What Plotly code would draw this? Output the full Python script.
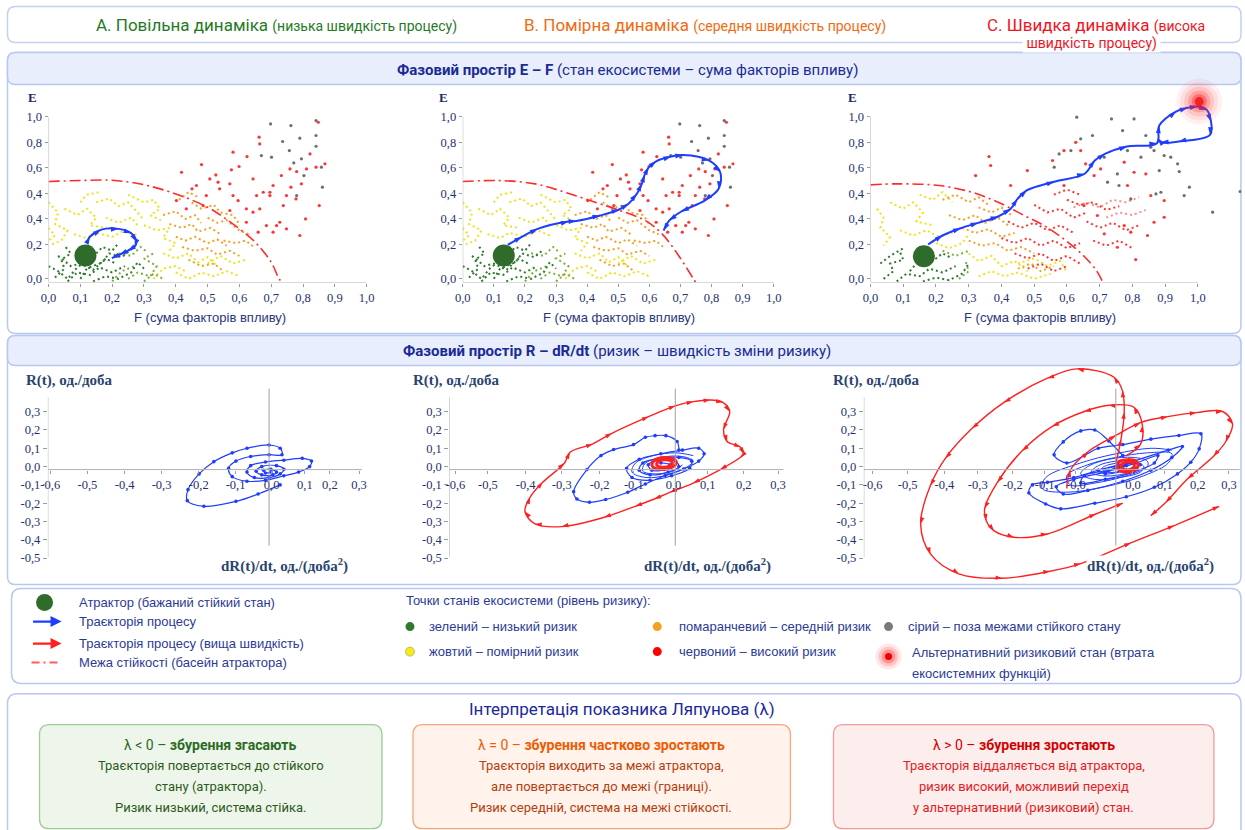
import plotly.graph_objects as go

W, H = 1245, 830

# ====================== DATA ======================
F_TICKS = [0.0, 0.1, 0.2, 0.3, 0.4, 0.5, 0.6, 0.7, 0.8, 0.9, 1.0]
F_TICK_TEXT = ["0,0", "0,1", "0,2", "0,3", "0,4", "0,5", "0,6", "0,7", "0,8", "0,9", "1,0"]
E_TICK_POS = [0.0, 0.27, 0.47, 0.67, 0.87, 1.07, 1.27]
E_TICK_TEXT = ["0,0", "0,2", "0,4", "0,4", "0,6", "0,8", "1,0"]

R_TICKS = [-0.5, -0.4, -0.3, -0.2, -0.1, 0.0, 0.1, 0.2, 0.3]
R_TICK_TEXT = ["-0,5", "-0,4", "-0,3", "-0,2", "-0,1", "0,0", "0,1", "0,2", "0,3"]
DR_TICK_TEXT = ["-0,6", "-0,5", "-0,4", "-0,3", "-0,2", "-0,1", "0,0", "0,1", "0,2", "0,3"]
DR_TICK_POS_A = [-0.594, -0.493, -0.392, -0.292, -0.191, -0.091, 0.007, 0.097, 0.165, 0.244]
DR_TICK_POS_B = [-0.61, -0.52, -0.415, -0.315, -0.21, -0.115, -0.005, 0.09, 0.19, 0.285]
DR_TICK_TEXT_C = ["-0,6", "-0,5", "-0,4", "-0,3", "-0,2", "-0,1", "-0,0", "0,0", "0,1", "0,2", "0,3"]
DR_TICK_POS_C = [-0.694, -0.594, -0.489, -0.394, -0.294, -0.203, -0.114, 0.049, 0.14, 0.234, 0.323]

# stability boundaries (F, E)
BOUND_A = [(0, 0.763), (0.1, 0.771), (0.2, 0.773), (0.3, 0.738), (0.4, 0.666), (0.5, 0.562),
           (0.55, 0.483), (0.6, 0.392), (0.65, 0.287), (0.7, 0.130), (0.725, 0.0), (0.735, -0.03)]
BOUND_B = [(0, 0.763), (0.115, 0.771), (0.233, 0.745), (0.329, 0.679), (0.426, 0.6), (0.501, 0.54),
           (0.587, 0.457), (0.641, 0.353), (0.694, 0.183), (0.742, 0.0), (0.75, -0.03)]
BOUND_C = [(0, 0.737), (0.08, 0.745), (0.21, 0.732), (0.31, 0.679), (0.39, 0.601), (0.47, 0.496),
           (0.53, 0.418), (0.59, 0.313), (0.65, 0.183), (0.69, 0.065), (0.71, -0.03)]

# attractors and alternative state
ATTR_A = (0.116, 0.183)
ATTR_B = (0.132, 0.183)
ATTR_C = (0.163, 0.177)
ALT_C = (1.004, 1.39)

# process trajectories in E-F
TRAJ_A = [(0.121, 0.287), (0.13, 0.33), (0.164, 0.384), (0.220, 0.392), (0.260, 0.358), (0.276, 0.293),
          (0.271, 0.253), (0.250, 0.222), (0.224, 0.191), (0.199, 0.162)]
TRAJ_B = [(0.145, 0.267), (0.19, 0.33), (0.241, 0.392), (0.340, 0.449), (0.365, 0.454), (0.442, 0.497),
          (0.503, 0.544), (0.533, 0.588), (0.560, 0.667), (0.576, 0.745), (0.585, 0.816), (0.598, 0.875),
          (0.622, 0.922), (0.670, 0.959), (0.708, 0.972), (0.793, 0.928), (0.828, 0.836), (0.823, 0.706),
          (0.778, 0.614), (0.703, 0.528), (0.664, 0.457), (0.646, 0.379)]
TRAJ_C = [(0.176, 0.269), (0.22, 0.34), (0.275, 0.397), (0.329, 0.439), (0.390, 0.489), (0.428, 0.549),
          (0.449, 0.627), (0.477, 0.693), (0.561, 0.762), (0.654, 0.824), (0.685, 0.928), (0.716, 0.980),
          (0.783, 1.038), (0.875, 1.064), (0.882, 1.202), (0.933, 1.312), (0.968, 1.341), (0.999, 1.351),
          (1.027, 1.325), (1.040, 1.234), (1.037, 1.129), (0.941, 1.077), (0.887, 1.071), (0.878, 1.10)]

# ecosystem state points (dotted chains) for panels A and B
AB_GREEN_DARK = [
    [(0.02, 0.01), (0.05, 0.08), (0.04, 0.15), (0.07, 0.2), (0.05, 0.26)],
    [(0.06, -0.02), (0.09, 0.05), (0.13, 0.03), (0.16, 0.09), (0.2, 0.05), (0.24, 0.1)],
    [(0.1, 0.0), (0.12, 0.08), (0.17, 0.13), (0.19, 0.2), (0.23, 0.17), (0.26, 0.23)],
    [(0.14, -0.02), (0.18, 0.02), (0.22, 0.0), (0.26, 0.05), (0.28, 0.13), (0.3, 0.08)],
    [(0.03, 0.18), (0.07, 0.1), (0.1, 0.12), (0.14, 0.07), (0.18, 0.16), (0.21, 0.12)],
    [(0.0, 0.1), (0.03, 0.06), (0.06, 0.0), (0.09, 0.09), (0.12, 0.14)],
    [(0.15, 0.2), (0.17, 0.25), (0.2, 0.22), (0.22, 0.28)],
]
AB_GREEN_LIGHT = [
    [(0.25, 0.0), (0.28, 0.05), (0.32, 0.02), (0.34, 0.1), (0.3, 0.16), (0.33, 0.2)],
    [(0.22, 0.2), (0.26, 0.18), (0.29, 0.25), (0.31, 0.21)],
    [(0.2, -0.02), (0.23, 0.06), (0.27, 0.1)],
    [(0.3, -0.02), (0.33, 0.04), (0.36, 0.0)],
]
AB_YELLOW = [
    [(0.0, 0.6), (0.03, 0.52), (0.02, 0.43), (0.06, 0.38), (0.04, 0.3), (0.01, 0.27)],
    [(0.05, 0.55), (0.09, 0.5), (0.12, 0.55), (0.15, 0.48), (0.13, 0.42), (0.18, 0.4)],
    [(0.08, 0.35), (0.12, 0.32), (0.15, 0.36), (0.2, 0.33), (0.24, 0.38), (0.28, 0.34)],
    [(0.15, 0.6), (0.19, 0.63), (0.22, 0.57), (0.25, 0.6), (0.28, 0.52), (0.3, 0.46)],
    [(0.25, 0.66), (0.3, 0.6), (0.33, 0.62), (0.35, 0.55), (0.32, 0.5), (0.36, 0.45)],
    [(0.3, 0.42), (0.34, 0.38), (0.38, 0.4), (0.36, 0.32), (0.4, 0.28), (0.38, 0.22)],
    [(0.36, 0.2), (0.4, 0.16), (0.44, 0.2), (0.47, 0.13), (0.5, 0.17), (0.53, 0.1)],
    [(0.4, 0.05), (0.44, 0.0), (0.48, 0.05), (0.52, 0.02), (0.56, 0.06), (0.6, 0.02)],
    [(0.33, 0.0), (0.36, 0.08), (0.4, 0.1), (0.43, 0.06)],
    [(0.5, 0.12), (0.54, 0.18), (0.58, 0.12), (0.62, 0.15)],
    [(0.1, 0.6), (0.12, 0.66), (0.16, 0.68)],
    [(0.18, 0.48), (0.22, 0.44), (0.26, 0.48), (0.28, 0.42)],
    [(0.0, 0.4), (0.02, 0.34), (0.0, 0.3)],
]
AB_ORANGE = [
    [(0.36, 0.5), (0.4, 0.53), (0.43, 0.47), (0.46, 0.5), (0.48, 0.44)],
    [(0.38, 0.43), (0.42, 0.4), (0.45, 0.43), (0.47, 0.37), (0.51, 0.4), (0.54, 0.35)],
    [(0.4, 0.33), (0.43, 0.3), (0.46, 0.33), (0.5, 0.28), (0.53, 0.31), (0.56, 0.26)],
    [(0.42, 0.25), (0.46, 0.22), (0.5, 0.24), (0.53, 0.19), (0.57, 0.22), (0.6, 0.18)],
    [(0.45, 0.6), (0.48, 0.55), (0.52, 0.58), (0.54, 0.52), (0.58, 0.5), (0.6, 0.43)],
    [(0.5, 0.48), (0.53, 0.44), (0.56, 0.46), (0.6, 0.38), (0.63, 0.35)],
    [(0.44, 0.15), (0.48, 0.1), (0.52, 0.12), (0.55, 0.06)],
    [(0.55, 0.3), (0.59, 0.28), (0.62, 0.3), (0.65, 0.24)],
    [(0.41, 0.62), (0.44, 0.68), (0.47, 0.64)],
]
AB_RED_F = [0.418, 0.451, 0.481, 0.496, 0.526, 0.538, 0.570, 0.580, 0.596, 0.575, 0.599, 0.624, 0.662, 0.664,
            0.643, 0.654, 0.675, 0.696, 0.706, 0.643, 0.622, 0.664, 0.685, 0.738, 0.748, 0.762, 0.778, 0.795,
            0.780, 0.759, 0.717, 0.706, 0.748, 0.790, 0.808, 0.851, 0.869, 0.848, 0.841, 0.822, 0.811, 0.533,
            0.507, 0.465, 0.402, 0.433, 0.486, 0.580, 0.570, 0.622, 0.696, 0.727, 0.659, 0.732]
AB_RED_E = [0.836, 0.706, 0.896, 0.653, 0.815, 0.706, 0.745, 0.653, 0.614, 0.855, 0.881, 0.959, 1.111, 1.058,
            0.784, 0.653, 0.679, 0.679, 0.732, 0.523, 0.549, 0.549, 0.418, 0.575, 0.653, 0.719, 0.627, 0.745,
            0.841, 0.862, 0.418, 0.366, 0.392, 0.340, 0.470, 0.575, 0.902, 1.228, 0.876, 0.980, 0.862, 0.758,
            0.784, 0.732, 0.614, 0.549, 0.575, 0.993, 0.536, 0.444, 0.653, 0.444, 0.366, 0.810]
AB_GRAY_F = [0.698, 0.762, 0.736, 0.790, 0.841, 0.841, 0.841, 0.757, 0.795, 0.701, 0.669, 0.771, 0.858, 0.861,
             0.780, 0.803]
AB_GRAY_E = [1.215, 1.202, 1.077, 1.103, 1.241, 1.124, 1.040, 1.006, 0.941, 0.954, 0.967, 0.909, 0.876, 0.719,
             0.653, 0.810]

# ecosystem state points for panel C
C_GREEN_DARK = [
    [(0.04, 0.0), (0.07, 0.06), (0.06, 0.12), (0.1, 0.15), (0.09, 0.21)],
    [(0.08, -0.02), (0.11, 0.04), (0.15, 0.02), (0.18, 0.08), (0.22, 0.05), (0.26, 0.1)],
    [(0.12, 0.06), (0.14, 0.12), (0.19, 0.14), (0.22, 0.2), (0.25, 0.16)],
    [(0.16, -0.02), (0.2, 0.01), (0.24, -0.01), (0.28, 0.04), (0.3, 0.12)],
    [(0.03, 0.12), (0.06, 0.18), (0.1, 0.24)],
]
C_GREEN_LIGHT = [
    [(0.22, 0.22), (0.26, 0.18), (0.3, 0.22)],
    [(0.27, 0.0), (0.3, 0.06), (0.29, 0.14)],
]
C_YELLOW = [
    [(0.02, 0.55), (0.04, 0.48), (0.03, 0.4), (0.06, 0.33), (0.04, 0.26)],
    [(0.06, 0.6), (0.1, 0.55), (0.13, 0.6), (0.16, 0.52), (0.14, 0.45), (0.19, 0.42)],
    [(0.09, 0.38), (0.13, 0.34), (0.17, 0.38), (0.21, 0.33), (0.25, 0.36)],
    [(0.15, 0.66), (0.19, 0.62), (0.22, 0.68), (0.25, 0.6)],
    [(0.3, 0.2), (0.33, 0.14), (0.37, 0.18), (0.4, 0.1), (0.44, 0.14), (0.48, 0.06)],
    [(0.33, 0.02), (0.37, 0.06), (0.41, 0.02), (0.45, 0.05), (0.5, 0.0), (0.55, 0.04)],
    [(0.45, 0.12), (0.5, 0.16), (0.54, 0.1), (0.58, 0.14), (0.6, 0.05)],
    [(0.2, 0.28), (0.24, 0.24), (0.28, 0.28), (0.3, 0.35)],
]
C_ORANGE = [
    [(0.22, 0.62), (0.26, 0.66), (0.3, 0.6), (0.33, 0.64), (0.36, 0.58)],
    [(0.24, 0.5), (0.28, 0.46), (0.32, 0.5), (0.35, 0.44), (0.39, 0.48), (0.42, 0.42)],
    [(0.28, 0.4), (0.32, 0.36), (0.36, 0.39), (0.4, 0.33), (0.44, 0.36)],
    [(0.3, 0.3), (0.34, 0.26), (0.38, 0.28), (0.42, 0.22), (0.46, 0.25), (0.5, 0.2)],
    [(0.33, 0.56), (0.37, 0.52), (0.4, 0.56), (0.43, 0.5)],
    [(0.45, 0.08), (0.49, 0.12), (0.52, 0.06), (0.56, 0.1)],
]
C_RED = [
    [(0.42, 0.45), (0.46, 0.4), (0.5, 0.44), (0.54, 0.38), (0.58, 0.42), (0.62, 0.36)],
    [(0.4, 0.32), (0.44, 0.28), (0.48, 0.32), (0.52, 0.26), (0.56, 0.3), (0.6, 0.24), (0.64, 0.28)],
    [(0.44, 0.2), (0.48, 0.16), (0.52, 0.2), (0.56, 0.14), (0.6, 0.18), (0.64, 0.12)],
    [(0.5, 0.58), (0.54, 0.52), (0.58, 0.55), (0.62, 0.48), (0.66, 0.52)],
    [(0.6, 0.62), (0.64, 0.58), (0.68, 0.6), (0.72, 0.54), (0.76, 0.57)],
    [(0.66, 0.45), (0.7, 0.4), (0.74, 0.44), (0.78, 0.38), (0.82, 0.42)],
    [(0.68, 0.3), (0.72, 0.26), (0.76, 0.3), (0.8, 0.24)],
    [(0.56, 0.66), (0.6, 0.7), (0.64, 0.66)],
    [(0.48, 0.08), (0.52, 0.12), (0.56, 0.06), (0.6, 0.1)],
]
C_PINK = [
    [(0.62, 0.56), (0.66, 0.6), (0.7, 0.56), (0.74, 0.62), (0.78, 0.6), (0.82, 0.64)],
    [(0.72, 0.48), (0.76, 0.52), (0.8, 0.5), (0.84, 0.54)],
]
C_RED_F = [0.362, 0.367, 0.321, 0.428, 0.479, 0.556, 0.591, 0.627, 0.642, 0.657, 0.683, 0.703, 0.775, 0.805,
           0.841, 0.785, 0.856, 0.897, 0.714, 0.754, 0.795, 0.810, 0.775, 0.866, 0.897, 0.846, 0.693, 0.652,
           0.591]
C_RED_E = [0.959, 0.889, 0.810, 0.732, 0.849, 0.928, 1.006, 1.071, 1.006, 0.902, 0.810, 0.862, 0.915, 0.836,
           0.823, 0.732, 0.653, 0.614, 0.353, 0.248, 0.366, 0.151, 0.418, 0.444, 0.483, 0.340, 0.497, 0.575,
           0.732]
C_GRAY_F = [0.630, 0.736, 0.805, 0.770, 0.841, 0.678, 0.642, 0.576, 0.612, 0.714, 0.785, 0.866, 0.897, 0.917,
            0.938, 0.943, 0.882, 0.826, 0.856, 0.561, 0.754, 0.724, 0.759, 0.795, 0.872, 0.958, 1.045, 1.129,
            0.887, 0.974]
C_GRAY_E = [1.268, 1.254, 1.254, 1.163, 1.124, 1.124, 1.098, 0.980, 1.006, 0.954, 1.006, 1.006, 0.967, 0.954,
            0.902, 0.841, 0.849, 0.954, 1.032, 0.876, 0.823, 0.758, 0.732, 0.627, 0.666, 0.653, 0.523, 0.685,
            0.679, 0.719]

# phase space R - dR/dt : (dR/dt, R)
RA_BLUE = [(0.03, -0.10), (-0.03, -0.15), (-0.09, -0.19), (-0.177, -0.217), (-0.222, -0.186), (-0.22, -0.126),
           (-0.19, -0.04), (-0.15, 0.027), (-0.10, 0.075), (-0.06, 0.10), (0.0, 0.118), (0.03, 0.10),
           (0.035, 0.065), (0.0, 0.065), (-0.05, 0.055), (-0.09, 0.03), (-0.11, -0.01), (-0.10, -0.055),
           (-0.06, -0.08), (-0.01, -0.075), (0.04, -0.05), (0.08, -0.03), (0.11, 0.0), (0.115, 0.03),
           (0.09, 0.045), (0.04, 0.035), (-0.01, 0.025), (-0.05, 0.005), (-0.06, -0.03), (-0.04, -0.06),
           (0.0, -0.06), (0.03, -0.04), (0.04, -0.015), (0.02, 0.005), (-0.02, 0.0), (-0.035, -0.025),
           (-0.02, -0.045), (0.01, -0.045), (0.02, -0.03), (0.005, -0.015), (-0.015, -0.02), (-0.01, -0.035),
           (0.005, -0.03)]
RB_RED = [(0.0, 0.332), (0.05, 0.355), (0.097, 0.364), (0.132, 0.351), (0.151, 0.301), (0.134, 0.202),
          (0.144, 0.137), (0.181, 0.106), (0.190, 0.069), (0.181, 0.051), (0.125, -0.016), (0.05, -0.09),
          (-0.014, -0.140), (-0.058, -0.177), (-0.111, -0.217), (-0.197, -0.277), (-0.315, -0.328),
          (-0.389, -0.313), (-0.417, -0.246), (-0.403, -0.168), (-0.368, -0.086), (-0.308, 0.018),
          (-0.292, 0.078), (-0.229, 0.124), (-0.176, 0.182), (-0.074, 0.273), (0.0, 0.332)]
RB_BLUE = [(0.01, 0.09), (0.005, 0.137), (-0.026, 0.169), (-0.056, 0.169), (-0.083, 0.160), (-0.116, 0.120),
           (-0.171, 0.093), (-0.206, 0.060), (-0.245, -0.016), (-0.282, -0.137), (-0.273, -0.177),
           (-0.238, -0.195), (-0.193, -0.180), (-0.132, -0.140), (-0.083, -0.095), (-0.028, -0.049),
           (0.023, -0.013), (0.065, 0.03), (0.08, 0.07), (0.065, 0.10), (0.02, 0.09), (-0.04, 0.07),
           (-0.10, 0.04), (-0.135, -0.01), (-0.12, -0.06), (-0.07, -0.075), (-0.01, -0.05), (0.04, -0.01),
           (0.045, 0.03), (0.01, 0.05), (-0.04, 0.045), (-0.09, 0.02), (-0.10, -0.02), (-0.07, -0.045),
           (-0.02, -0.03), (0.01, 0.0), (0.0, 0.03), (-0.04, 0.035), (-0.075, 0.01), (-0.065, -0.02),
           (-0.03, -0.015), (-0.015, 0.01), (-0.04, 0.02)]
RB_BLUE_INNER = [(0.05, 0.06), (0.0, 0.075), (-0.06, 0.06), (-0.11, 0.02), (-0.12, -0.03), (-0.08, -0.06),
                 (-0.02, -0.045), (0.03, -0.005), (0.05, 0.03), (0.02, 0.055), (-0.04, 0.05), (-0.085, 0.015),
                 (-0.09, -0.025), (-0.05, -0.04), (0.0, -0.02), (0.02, 0.01)]
RB_CORE = [
    [(-0.065, 0.012), (-0.055, 0.038), (-0.03, 0.05), (-0.005, 0.042), (0.003, 0.02), (-0.01, -0.005),
     (-0.035, -0.015), (-0.058, -0.008), (-0.065, 0.012)],
    [(-0.052, 0.014), (-0.045, 0.03), (-0.03, 0.037), (-0.013, 0.032), (-0.008, 0.018), (-0.016, 0.003),
     (-0.034, -0.003), (-0.048, 0.002), (-0.052, 0.014)],
]
RC_RED_1 = [(0.0, 0.02), (0.015, 0.15), (0.024, 0.297), (0.019, 0.415), (-0.005, 0.488), (-0.11, 0.534),
            (-0.195, 0.483), (-0.319, 0.351), (-0.410, 0.209), (-0.486, 0.046), (-0.529, -0.104),
            (-0.557, -0.313), (-0.529, -0.477), (-0.448, -0.586), (-0.324, -0.610), (-0.188, -0.572),
            (-0.10, -0.53), (0.043, -0.417), (0.167, -0.322), (0.295, -0.217)]
RC_RED_2 = [(0.03, 0.06), (0.07, 0.12), (0.076, 0.224), (0.052, 0.324), (-0.02, 0.335), (-0.090, 0.301),
            (-0.181, 0.220), (-0.267, 0.087), (-0.338, -0.086), (-0.374, -0.228), (-0.370, -0.295),
            (-0.348, -0.350), (-0.291, -0.386), (-0.195, -0.368), (-0.057, -0.259), (0.02, -0.2)]
RC_RED_3 = [(-0.14, -0.12), (-0.13, -0.02), (-0.08, 0.08), (0.0, 0.17), (0.07, 0.24), (0.148, 0.273),
            (0.23, 0.295), (0.305, 0.301), (0.333, 0.233), (0.314, 0.137), (0.279, 0.056), (0.205, -0.067),
            (0.143, -0.195), (0.100, -0.268)]
RC_CORE = [
    [(0.004, 0.005), (0.012, 0.03), (0.034, 0.038), (0.058, 0.03), (0.064, 0.005), (0.052, -0.022),
     (0.03, -0.03), (0.01, -0.02), (0.004, 0.005)],
    [(0.016, 0.004), (0.022, 0.02), (0.036, 0.026), (0.05, 0.02), (0.053, 0.003), (0.044, -0.014),
     (0.03, -0.018), (0.019, -0.01), (0.016, 0.004)],
]
RC_BLUE = [(0.02, 0.06), (-0.02, 0.14), (-0.06, 0.20), (-0.10, 0.195), (-0.15, 0.135), (-0.176, 0.064),
           (-0.14, 0.02), (-0.09, 0.06), (-0.05, 0.10), (0.02, 0.12), (0.10, 0.15), (0.18, 0.17),
           (0.243, 0.179), (0.238, 0.097), (0.214, 0.024), (0.176, -0.040), (0.110, -0.113), (0.03, -0.165),
           (-0.06, -0.20), (-0.157, -0.231), (-0.200, -0.204), (-0.248, -0.144), (-0.238, -0.1),
           (-0.195, -0.086), (-0.12, -0.06), (-0.05, -0.02), (0.05, 0.03), (0.15, 0.09), (0.19, 0.11),
           (0.16, 0.05), (0.10, -0.02), (0.02, -0.08), (-0.08, -0.13), (-0.15, -0.15), (-0.17, -0.11),
           (-0.12, -0.07), (-0.03, -0.03), (0.06, 0.02), (0.12, 0.06), (0.11, 0.02), (0.05, -0.03),
           (-0.03, -0.07), (-0.10, -0.09), (-0.09, -0.05), (-0.02, -0.02), (0.05, 0.02), (0.07, 0.01),
           (0.03, -0.02), (-0.03, -0.04), (-0.05, -0.02), (0.0, 0.0), (0.03, 0.005)]
RC_BLUE_INNER = [(0.16, 0.09), (0.1, 0.1), (0.0, 0.07), (-0.1, 0.02), (-0.2, -0.06), (-0.21, -0.12),
                 (-0.14, -0.14), (-0.03, -0.11), (0.08, -0.05), (0.15, 0.02), (0.16, 0.07), (0.09, 0.075),
                 (0.0, 0.05), (-0.08, 0.01), (-0.14, -0.05), (-0.13, -0.1), (-0.06, -0.09), (0.03, -0.05),
                 (0.09, 0.0), (0.09, 0.03), (0.05, 0.05), (-0.02, 0.04), (-0.08, 0.0), (-0.1, -0.04),
                 (-0.06, -0.07), (0.01, -0.06), (0.07, -0.03), (0.08, 0.0), (0.05, 0.03), (0.0, 0.03),
                 (-0.05, 0.005), (-0.07, -0.03), (-0.04, -0.05), (0.01, -0.045), (0.05, -0.02), (0.05, 0.01),
                 (0.02, 0.02), (-0.02, 0.01), (-0.04, -0.01), (-0.03, -0.03), (0.0, -0.03), (0.03, -0.015)]

# ====================== STYLE ======================
SANS = "Liberation Sans, Arial, sans-serif"
HEAD = "Roboto, Liberation Sans, sans-serif"
SERIF = "Liberation Serif, Times New Roman, serif"
NAVY = "#26306e"
BLUE = "#1f3dff"
RED = "#ff2020"
C_DGREEN = "#2e7a2e"
C_LGREEN = "#7fb03a"
C_YEL = "#f0e21a"
C_ORA = "#f5a020"
C_RD = "#ff3535"
C_GR = "#6e6e6e"

# page placement correction (observed rendering offset / scale of the page)
OX, SX = 8.5, 0.99
OY, SY = -0.5, 0.995

fig = go.Figure()
shapes, ann = [], []


def X(p):
    return ((p - OX) / SX) / W


def Y(p):
    return 1 - ((p - OY) / SY) / H


def clamp01(v):
    return max(0.0, min(1.0, v))


def pts(p):
    return [q[0] for q in p], [q[1] for q in p]


def path_trace(p, xa, ya, **kw):
    xs, ys = pts(p)
    fig.add_trace(go.Scatter(x=xs, y=ys, xaxis=xa, yaxis=ya, hoverinfo="skip", showlegend=False, **kw))


def worms(paths, color, xa, ya, width=2.0):
    xs, ys = [], []
    for p in paths:
        a, b = pts(p)
        xs += a + [None]
        ys += b + [None]
    fig.add_trace(go.Scatter(x=xs, y=ys, mode="lines", xaxis=xa, yaxis=ya, hoverinfo="skip",
                             showlegend=False, line=dict(color=color, width=width, dash="2px,3px")))


def dots(xs, ys, color, xa, ya, size=3.2):
    fig.add_trace(go.Scatter(x=xs, y=ys, mode="markers", xaxis=xa, yaxis=ya, hoverinfo="skip",
                             showlegend=False, marker=dict(color=color, size=size)))


def rrect(x0, y0, x1, y1, r, fill, line, lw=1.2):
    p = (f"M {X(x0 + r)},{Y(y0)} L {X(x1 - r)},{Y(y0)} Q {X(x1)},{Y(y0)} {X(x1)},{Y(y0 + r)} "
         f"L {X(x1)},{Y(y1 - r)} Q {X(x1)},{Y(y1)} {X(x1 - r)},{Y(y1)} "
         f"L {X(x0 + r)},{Y(y1)} Q {X(x0)},{Y(y1)} {X(x0)},{Y(y1 - r)} "
         f"L {X(x0)},{Y(y0 + r)} Q {X(x0)},{Y(y0)} {X(x0 + r)},{Y(y0)} Z")
    shapes.append(dict(type="path", xref="paper", yref="paper", path=p, fillcolor=fill,
                       line=dict(color=line, width=lw), layer="below"))


def circ(cx, cy, r, fill, line=None):
    shapes.append(dict(type="circle", xref="paper", yref="paper", x0=X(cx - r), x1=X(cx + r),
                       y0=Y(cy + r), y1=Y(cy - r), fillcolor=fill,
                       line=dict(color=line or fill, width=0.8 if line else 0)))


def txt(x, y, s, size, color, family=SANS, xanchor="left", bg="rgba(0,0,0,0)"):
    ann.append(dict(x=X(x), y=Y(y), xref="paper", yref="paper", text=s, showarrow=False,
                    xanchor=xanchor, yanchor="middle", bgcolor=bg, borderpad=0,
                    font=dict(size=size, color=color, family=family)))


# ====================== FRAMES ======================
rrect(8, 6, 1240, 42, 8, "white", "#c3d0f2", 1.5)
rrect(8, 52, 1240, 333, 8, "white", "#b8c8f0", 1.5)
rrect(8, 52, 1240, 84, 8, "#e8eefb", "#b8c8f0", 1.5)
rrect(8, 335, 1240, 584, 8, "white", "#b8c8f0", 1.5)
rrect(8, 335, 1240, 365, 8, "#e8eefb", "#b8c8f0", 1.5)
rrect(12, 588, 1240, 683, 10, "white", "#b8c8f0", 1.5)
rrect(8, 693, 1240, 845, 10, "white", "#b8c8f0", 1.5)
rrect(40, 724, 382, 828, 10, "#eef6ec", "#9fcb98", 1.3)
rrect(413, 724, 790, 828, 10, "#fff3ec", "#f6a47c", 1.3)
rrect(833, 724, 1213, 828, 10, "#fdeeee", "#f29a9a", 1.3)

# ====================== E-F PANELS ======================
EF = [  # (xaxis, yaxis, px_left, px_right, px_per_unit)
    ("x", "y", 49, 400, 317.7),
    ("x2", "y2", 462.7, 810, 310.6),
    ("x3", "y3", 870, 1240.5, 327.0),
]
E_ZERO, E_PPU, EF_TOP, EF_BOT = 278.3, 127.5, 88, 282
e_rng = [(E_ZERO - EF_BOT) / E_PPU, (E_ZERO - EF_TOP) / E_PPU]
layout_axes = {}
for i, (xa, ya, pl, pr, ppu) in enumerate(EF):
    xn = "xaxis" + ("" if i == 0 else str(i + 1))
    yn = "yaxis" + ("" if i == 0 else str(i + 1))
    layout_axes[xn] = dict(domain=[clamp01(X(pl)), clamp01(X(pr))], range=[0, (pr - pl) / ppu],
                           tickvals=F_TICKS, ticktext=F_TICK_TEXT, ticks="outside", ticklen=3,
                           tickcolor="#9a9a9a", showgrid=False, zeroline=False, showline=False, anchor=ya,
                           tickfont=dict(family=SERIF, size=12.5, color=NAVY))
    layout_axes[yn] = dict(domain=[clamp01(Y(EF_BOT)), clamp01(Y(EF_TOP))], range=e_rng, tickvals=E_TICK_POS,
                           ticktext=E_TICK_TEXT, ticks="outside", ticklen=3, tickcolor="#9a9a9a",
                           showgrid=False, zeroline=False, showline=False, anchor=xa,
                           tickfont=dict(family=SERIF, size=12.5, color=NAVY))
    shapes.append(dict(type="line", xref=xa, yref=ya, x0=0, x1=1.0, y0=e_rng[0], y1=e_rng[0],
                       line=dict(color="#b0b0b0", width=1)))
    shapes.append(dict(type="line", xref=xa, yref=ya, x0=0, x1=0, y0=e_rng[0], y1=1.27,
                       line=dict(color="#b0b0b0", width=1)))

# clouds A & B
for xa, ya in (("x", "y"), ("x2", "y2")):
    worms(AB_YELLOW, C_YEL, xa, ya)
    worms(AB_ORANGE, C_ORA, xa, ya)
    worms(AB_GREEN_LIGHT, C_LGREEN, xa, ya)
    worms(AB_GREEN_DARK, C_DGREEN, xa, ya)
    dots(AB_RED_F, AB_RED_E, C_RD, xa, ya)
    dots(AB_GRAY_F, AB_GRAY_E, C_GR, xa, ya)
# clouds C
worms(C_YELLOW, C_YEL, "x3", "y3")
worms(C_ORANGE, C_ORA, "x3", "y3")
worms(C_PINK, "#ff8a8a", "x3", "y3")
worms(C_RED, C_RD, "x3", "y3")
worms(C_GREEN_LIGHT, C_LGREEN, "x3", "y3")
worms(C_GREEN_DARK, C_DGREEN, "x3", "y3")
dots(C_RED_F, C_RED_E, C_RD, "x3", "y3")
dots(C_GRAY_F, C_GRAY_E, C_GR, "x3", "y3")

# boundaries
for b, xa, ya in ((BOUND_A, "x", "y"), (BOUND_B, "x2", "y2"), (BOUND_C, "x3", "y3")):
    path_trace(b, xa, ya, mode="lines", line=dict(color="#ff2a2a", width=1.6, dash="11px,4px,2px,4px",
                                                  shape="spline"))

# attractors
for a, xa, ya in ((ATTR_A, "x", "y"), (ATTR_B, "x2", "y2"), (ATTR_C, "x3", "y3")):
    fig.add_trace(go.Scatter(x=[a[0]], y=[a[1]], mode="markers", xaxis=xa, yaxis=ya, hoverinfo="skip",
                             showlegend=False, marker=dict(color="#2f6b2a", size=22)))

# trajectories
for t, xa, ya in ((TRAJ_A, "x", "y"), (TRAJ_B, "x2", "y2"), (TRAJ_C, "x3", "y3")):
    path_trace(t, xa, ya, mode="lines+markers", line=dict(color=BLUE, width=2, shape="spline"),
               marker=dict(symbol="arrow", size=8, color=BLUE, angleref="previous"))

# alternative state glow
fig.add_trace(go.Scatter(x=[ALT_C[0]] * 6, y=[ALT_C[1]] * 6, mode="markers", xaxis="x3", yaxis="y3",
                         hoverinfo="skip", showlegend=False, cliponaxis=False,
                         marker=dict(size=[46, 38, 30, 22, 15, 9],
                                     color=["rgba(255,60,60,0.10)", "rgba(255,50,50,0.14)",
                                            "rgba(255,40,40,0.2)", "rgba(255,30,30,0.3)",
                                            "rgba(255,20,20,0.5)", "rgba(240,0,0,1)"],
                                     line=dict(width=0))))

# ====================== R - dR/dt PANELS ======================
RD = [  # (xaxis, yaxis, px_left, px_right, px_zero, px_per_unit, tickpos, ticktext)
    ("x4", "y4", 48.3, 364, 269.3, 368, DR_TICK_POS_A, DR_TICK_TEXT),
    ("x5", "y5", 449.3, 785, 675, 360, DR_TICK_POS_B, DR_TICK_TEXT),
    ("x6", "y6", 863.3, 1240.5, 1115, 350, DR_TICK_POS_C, DR_TICK_TEXT_C),
]
R_ZERO, R_PPU, RD_TOP, RD_BOT = 466, 183, 362, 585
r_rng = [(R_ZERO - RD_BOT) / R_PPU, (R_ZERO - RD_TOP) / R_PPU]
for i, (xa, ya, pl, pr, pz, ppu, tp, tt) in enumerate(RD):
    xr = [(pl - pz) / ppu, (pr - pz) / ppu]
    layout_axes["xaxis" + str(i + 4)] = dict(domain=[clamp01(X(pl)), clamp01(X(pr))], range=xr, tickvals=tp,
                                             ticktext=tt, ticks="outside", ticklen=3, tickcolor="#9a9a9a",
                                             showgrid=False, zeroline=False, showline=False,
                                             anchor="free", position=clamp01(Y(469)),
                                             tickfont=dict(family=SERIF, size=12.5, color=NAVY))
    layout_axes["yaxis" + str(i + 4)] = dict(domain=[clamp01(Y(RD_BOT)), clamp01(Y(RD_TOP))], range=r_rng,
                                             tickvals=R_TICKS, ticktext=R_TICK_TEXT, ticks="outside",
                                             ticklen=4, tickcolor="#9a9a9a", showgrid=False, zeroline=False,
                                             showline=False, anchor=xa,
                                             tickfont=dict(family=SERIF, size=12.5, color=NAVY))
    y_line = (R_ZERO - 469) / R_PPU
    shapes.append(dict(type="line", xref=xa, yref=ya, x0=xr[0], x1=xr[0], y0=(R_ZERO - 396.7) / R_PPU,
                       y1=(R_ZERO - 556.7) / R_PPU, line=dict(color="#b0b0b0", width=1)))
    shapes.append(dict(type="line", xref=xa, yref=ya, x0=xr[0], x1=xr[1] - 0.005, y0=y_line, y1=y_line,
                       line=dict(color="#b0b0b0", width=1)))
    shapes.append(dict(type="line", xref=xa, yref=ya, x0=0, x1=0, y0=0.426, y1=-0.432,
                       line=dict(color="#a0a0a0", width=1)))

blue_kw = dict(mode="lines+markers", line=dict(color=BLUE, width=1.2, shape="spline"),
               marker=dict(symbol="circle", size=3.6, color=BLUE))
thin_kw = dict(mode="lines", line=dict(color=BLUE, width=1.0, shape="spline"))
red_kw = dict(mode="lines+markers", line=dict(color=RED, width=1.4, shape="spline"),
              marker=dict(symbol="arrow", size=7, color=RED, angleref="previous"))
core_kw = dict(mode="lines", line=dict(color=RED, width=3, shape="spline"))

path_trace(RA_BLUE, "x4", "y4", **blue_kw)
path_trace(RB_BLUE_INNER, "x5", "y5", **thin_kw)
path_trace(RB_BLUE, "x5", "y5", **blue_kw)
path_trace(RB_RED, "x5", "y5", **red_kw)
for c in RB_CORE:
    path_trace(c, "x5", "y5", **core_kw)
path_trace(RC_BLUE_INNER, "x6", "y6", **thin_kw)
path_trace(RC_BLUE, "x6", "y6", **blue_kw)
path_trace(RC_RED_1, "x6", "y6", **red_kw)
path_trace(RC_RED_2, "x6", "y6", **red_kw)
path_trace(RC_RED_3, "x6", "y6", **red_kw)
for c in RC_CORE:
    path_trace(c, "x6", "y6", **core_kw)

# ====================== TEXT ======================
txt(95, 24, "А. Повільна динаміка <span style='font-size:14px'>(низька швидкість процесу)</span>",
    17, "#1f7a1f", HEAD)
txt(523, 24, "В. Помірна динаміка <span style='font-size:14px'>(середня швидкість процесу)</span>",
    17, "#f26a0f", HEAD)
txt(985, 24, "С. Швидка динаміка <span style='font-size:14px'>(висока</span>", 17, "#f0141e", HEAD)
txt(1021, 43, " швидкість процесу) ", 14, "#f0141e", HEAD, bg="white")

txt(627, 69, "<b>Фазовий простір E – F</b> (стан екосистеми – сума факторів впливу)", 15, "#1a2a96",
    HEAD, "center")
txt(617, 350, "<b>Фазовий простір R – dR/dt</b> (ризик – швидкість зміни ризику)", 15, "#1a2a96",
    HEAD, "center")

for x in (33, 443, 852):
    txt(x, 97, "<b>E</b>", 13, "#1f2a66", SERIF, "center")
for x in (210, 619, 1039):
    txt(x, 317, "F (сума факторів впливу)", 13, "#2a3580", SANS, "center")
for x in (25, 412, 832):
    txt(x, 380, "<b>R(t), од./доба</b>", 15, "#2a4470", SERIF)
for x in (220, 643):
    txt(x, 565, "<b>dR(t)/dt, од./(доба<sup>2</sup>)</b>", 15, "#2a4470", SERIF)
txt(1085, 565, "<b>dR(t)/dt, од./(доба<sup>2</sup>)</b>", 15, "#2a4470", SERIF, bg="white")

# legend
LC = "#2c3a96"
circ(45, 602, 8.5, "#2f6b2a")
for yy, col in ((621, BLUE), (643, RED)):
    ann.append(dict(x=X(62), y=Y(yy), xref="paper", yref="paper", ax=-30, ay=0, text="", showarrow=True,
                    arrowhead=2, arrowsize=1, arrowwidth=2.2, arrowcolor=col))
shapes.append(dict(type="line", xref="paper", yref="paper", x0=X(32), x1=X(62), y0=Y(662), y1=Y(662),
                   line=dict(color="#ff5a5a", width=2, dash="8px,4px,2px,4px")))
txt(78, 602, "Атрактор (бажаний стійкий стан)", 13, LC)
txt(78, 621, "Траєкторія процесу", 13, LC)
txt(78, 643, "Траєкторія процесу (вища швидкість)", 13, LC)
txt(78, 662, "Межа стійкості (басейн атрактора)", 13, LC)
txt(405, 600, "Точки станів екосистеми (рівень ризику):", 13, LC)
circ(410, 626, 4.5, "#2e7a2e")
circ(410, 651, 4.5, "#f5ea20", "#b8b040")
circ(657, 626, 4.5, "#f5a020")
circ(657, 651, 4.5, "#ff0000")
circ(888, 626, 4.5, "#7a7a7a")
for r, col in ((13, "rgba(255,60,60,0.12)"), (10, "rgba(255,40,40,0.18)"), (7, "rgba(255,30,30,0.3)")):
    circ(888, 656, r, col)
circ(888, 656, 3.5, "#f00000")
txt(428, 626, "зелений – низький ризик", 13, LC)
txt(428, 651, "жовтий – помірний ризик", 13, LC)
txt(678, 626, "помаранчевий – середній ризик", 13, LC)
txt(678, 651, "червоний – високий ризик", 13, LC)
txt(906, 626, "сірий – поза межами стійкого стану", 13, LC)
txt(910, 652, "Альтернативний ризиковий стан (втрата", 13, LC)
txt(910, 673, "екосистемних функцій)", 13, LC)

# Lyapunov interpretation
txt(622, 708, "Інтерпретація показника Ляпунова (λ)", 17, "#1a2a9c", HEAD, "center")
txt(211, 744, "λ < 0 – <b>збурення згасають</b>", 14, "#2b6a1f", HEAD, "center")
txt(211, 765, "Траєкторія повертається до стійкого", 13, "#2d5a1a", HEAD, "center")
txt(211, 786, "стану (атрактора).", 13, "#2d5a1a", HEAD, "center")
txt(211, 807, "Ризик низький, система стійка.", 13, "#2d5a1a", HEAD, "center")
txt(601, 744, "λ = 0 – <b>збурення частково зростають</b>", 14, "#f05a00", HEAD, "center")
txt(601, 765, "Траєкторія виходить за межі атрактора,", 13, "#b3400e", HEAD, "center")
txt(601, 786, "але повертається до межі (границі).", 13, "#b3400e", HEAD, "center")
txt(601, 807, "Ризик середній, система на межі стійкості.", 13, "#b3400e", HEAD, "center")
txt(1023, 744, "λ > 0 – <b>збурення зростають</b>", 14, "#d40000", HEAD, "center")
txt(1023, 765, "Траєкторія віддаляється від атрактора,", 13, "#e51c1c", HEAD, "center")
txt(1023, 786, "ризик високий, можливий перехід", 13, "#e51c1c", HEAD, "center")
txt(1023, 807, "у альтернативний (ризиковий) стан.", 13, "#e51c1c", HEAD, "center")

fig.update_layout(width=W, height=H, margin=dict(l=0, r=0, t=0, b=0), paper_bgcolor="white",
                  plot_bgcolor="rgba(0,0,0,0)", showlegend=False, shapes=shapes, annotations=ann,
                  **layout_axes)
fig.write_html("out.html", config={"displayModeBar": False, "responsive": False},
               post_script="document.body.style.margin='0';document.body.style.overflow='hidden';")
